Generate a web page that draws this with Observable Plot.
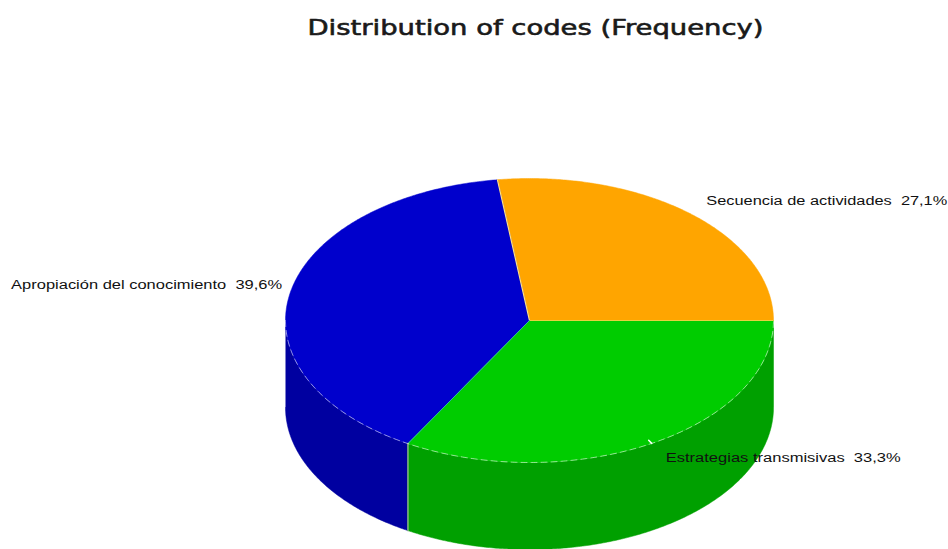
<!DOCTYPE html>
<html><head><meta charset="utf-8">
<style>html,body{margin:0;padding:0;background:#fff}svg{display:block}</style>
<script src="https://cdn.jsdelivr.net/npm/d3@7"></script>
<script src="https://cdn.jsdelivr.net/npm/@observablehq/plot@0.6"></script>
</head><body><script>
const titleText = "Distribution of codes (Frequency)";
const categories = ["Secuencia de actividades", "Apropiación del conocimiento", "Estrategias transmisivas"];
const shares = [27.1, 39.6, 33.3];
const valueLabels = ["27,1%", "39,6%", "33,3%"];
const topColors = ["#ffa500", "#0000cc", "#00cc00"];
const sideColors = ["#b87700", "#0000a0", "#00a000"];

const W = 948, H = 549, cx = 529, cy = 320, rx = 244, ry = 142;
const depth = 87 / ry; // pie thickness in y-scale units
const x = {domain: [-cx / rx, (W - cx) / rx], range: [0, W]};
const y = {domain: [cy / ry, (cy - H) / ry], range: [0, H]};

const total = d3.sum(shares);
let acc = 0;
const slices = shares.map((v, i) => {
  const a0 = acc / total * 360; acc += v; const a1 = acc / total * 360;
  return {name: categories[i], label: valueLabels[i], a0, a1, mid: (a0 + a1) / 2, top: topColors[i], side: sideColors[i]};
});
const P = (a, dz = 0, k = 1) => ({x: k * Math.cos(a * Math.PI / 180), y: k * Math.sin(a * Math.PI / 180) - dz});
const arc = (a0, a1, dz = 0) => d3.range(a0, a1, 0.5).concat(a1).map(a => P(a, dz));

const marks = [];
// side walls of the front half
for (const s of slices) {
  const a0 = Math.max(s.a0, 180), a1 = Math.min(s.a1, 360);
  if (a1 <= a0) continue;
  const poly = [...arc(a0, a1), ...arc(a0, a1, depth).reverse()];
  marks.push(Plot.line(poly, {x: "x", y: "y", fill: s.side, stroke: s.side, strokeWidth: 0.5}));
}
// top faces
for (const s of slices) {
  const poly = [{x: 0, y: 0}, ...arc(s.a0, s.a1), {x: 0, y: 0}];
  marks.push(Plot.line(poly, {x: "x", y: "y", fill: s.top, stroke: s.top, strokeWidth: 0.5}));
}
// seams between the faces
marks.push(Plot.line([{x: 0, y: 0}, P(0)], {x: "x", y: "y", stroke: "#e8d040", strokeWidth: 1}));
marks.push(Plot.line([{x: 0, y: 0}, P(slices[0].a1)], {x: "x", y: "y", stroke: "#ffe080", strokeWidth: 1.2}));
marks.push(Plot.line([{x: 0, y: 0}, P(slices[1].a1)], {x: "x", y: "y", stroke: "#30b8a0", strokeWidth: 1}));
marks.push(Plot.line([P(slices[1].a1), P(slices[1].a1, depth)], {x: "x", y: "y", stroke: "#80b080", strokeWidth: 1.6}));
marks.push(Plot.line(arc(180, 360), {x: "x", y: "y", stroke: "#ffffff", strokeWidth: 1, strokeOpacity: 0.55, strokeDasharray: "6,4"}));
// small leader tick of the third slice
const m = slices[2].mid;
marks.push(Plot.line([P(m), P(m, 0, 0.975)], {x: "x", y: "y", stroke: "#ffffff", strokeWidth: 1.5}));

// labels, placed from each slice's mid-angle
const labelFont = {fontFamily: "'Liberation Sans', Arial, sans-serif", fontSize: 12, fill: "#111", stroke: "none"};
const labelText = s => `${s.name}  ${s.label}`;
marks.push(Plot.text([{...P(slices[0].mid), t: labelText(slices[0])}], {x: "x", y: "y", text: "t", textAnchor: "start", dx: 16, dy: -13, ...labelFont, className: "w241"}));
marks.push(Plot.text([{...P(slices[1].mid), t: labelText(slices[1])}], {x: "x", y: "y", text: "t", textAnchor: "end", dx: -8, dy: -8, ...labelFont, className: "w271"}));
marks.push(Plot.text([{...P(slices[2].mid), t: labelText(slices[2])}], {x: "x", y: "y", text: "t", textAnchor: "start", dx: 14, dy: 15, ...labelFont, className: "w235"}));
// title
marks.push(Plot.text([titleText], {frameAnchor: "top", dx: 61, dy: 28, text: d => d, lineAnchor: "middle", fontFamily: "'DejaVu Sans', sans-serif", fontSize: 21, fontWeight: 400, fill: "#1a1a1a", stroke: "#1a1a1a", strokeWidth: 0.6, className: "w456"}));

const chart = Plot.plot({width: W, height: H, margin: 0, x: {...x, axis: null}, y: {...y, axis: null}, marks});
// the reference's text is stretched wider than the fonts' natural width
chart.querySelectorAll("g[class^='w'] text, g[aria-label='text'] text").forEach(t => { t.style.whiteSpace = "pre"; });
for (const w of [241, 271, 235, 456]) {
  chart.querySelectorAll(`.w${w} text, text.w${w}`).forEach(t => {
    t.setAttribute("textLength", w);
    t.setAttribute("lengthAdjust", "spacingAndGlyphs");
  });
}
document.body.appendChild(chart);
</script></body></html>
